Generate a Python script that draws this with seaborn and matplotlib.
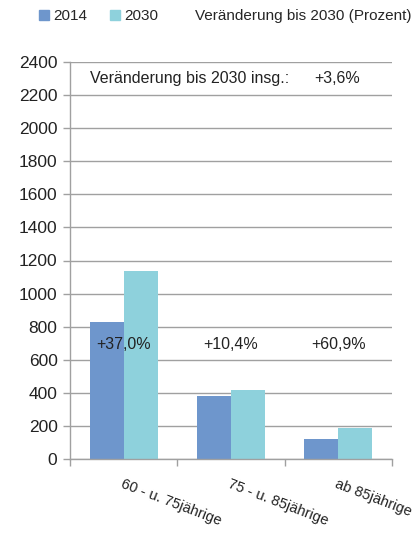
import matplotlib
matplotlib.use("Agg")
import matplotlib.pyplot as plt
import seaborn as sns
import pandas as pd
from matplotlib.patches import Patch
from matplotlib.lines import Line2D

categories = ["60 - u. 75jährige", "75 - u. 85jährige", "ab 85jährige"]
years = ["2014", "2030"]
values_2014 = [830, 383, 119]
values_2030 = [1135, 420, 190]
changes = ["+37,0%", "+10,4%", "+60,9%"]
total_change = "+3,6%"
yticks = list(range(0, 2401, 200))

sns.set_theme(style="white")
plt.rcParams['font.family'] = ['Liberation Sans', 'DejaVu Sans']

df = pd.DataFrame({
    "Kategorie": categories * 2,
    "Jahr": [years[0]] * 3 + [years[1]] * 3,
    "Wert": values_2014 + values_2030,
})

colors = ["#6E96CC", "#8ED1DC"]
fs = 11.5
fig = plt.figure(figsize=(4.17, 5.33), dpi=100)
ax = fig.add_axes([70 / 417, (533 - 459) / 533, (392 - 70) / 417, (459 - 62) / 533])
sns.barplot(data=df, x="Kategorie", y="Wert", hue="Jahr", palette=colors,
            width=0.635, saturation=1, ax=ax, legend=False, errorbar=None)
for p in ax.patches:
    p.set_linewidth(0)

ax.set_ylim(0, 2400)
ax.set_xlim(-0.5, 2.5)
ax.set_yticks(yticks)
ax.set_yticklabels([str(v) for v in yticks], fontsize=12.5, color="#222222")
ax.yaxis.grid(True, color="#A0A0A0", linewidth=1)
ax.set_axisbelow(True)
ax.tick_params(axis="y", length=5, color="#A0A0A0", width=1, pad=4, left=True)

ax.set_xticks([-0.5, 0.5, 1.5, 2.5])
ax.set_xticklabels([])
ax.tick_params(axis="x", length=5, color="#A0A0A0", width=1, bottom=True)
for i, c in enumerate(categories):
    ax.text(i, -110, c, rotation=-21, ha="left", va="top", rotation_mode="anchor",
            fontsize=10.5, color="#222222", transform=ax.transData)

for s in ["top", "right"]:
    ax.spines[s].set_visible(False)
for s in ["left", "bottom"]:
    ax.spines[s].set_color("#A0A0A0")
    ax.spines[s].set_linewidth(1)
ax.set_xlabel("")
ax.set_ylabel("")

for i, t in enumerate(changes):
    ax.text(i, 690, t, ha="center", va="center", fontsize=fs, color="#222222")

ax.text(0.062, 2300, "Veränderung bis 2030 insg.:", ha="left", va="center",
        fontsize=fs, color="#222222", transform=ax.get_yaxis_transform())
ax.text(0.83, 2300, total_change, ha="center", va="center",
        fontsize=fs, color="#222222", transform=ax.get_yaxis_transform())

handles = [Patch(color=colors[0], label=years[0]),
           Patch(color=colors[1], label=years[1]),
           Line2D([], [], linestyle="none", label="Veränderung bis 2030 (Prozent)")]
fig.legend(handles=handles, loc="upper left", bbox_to_anchor=(33 / 417, 1 - 3 / 533),
           ncol=3, frameon=False, fontsize=11, handlelength=0.65, handleheight=0.65,
           handletextpad=0.3, columnspacing=1.45, borderaxespad=0)

fig.savefig("out.png", dpi=100)
